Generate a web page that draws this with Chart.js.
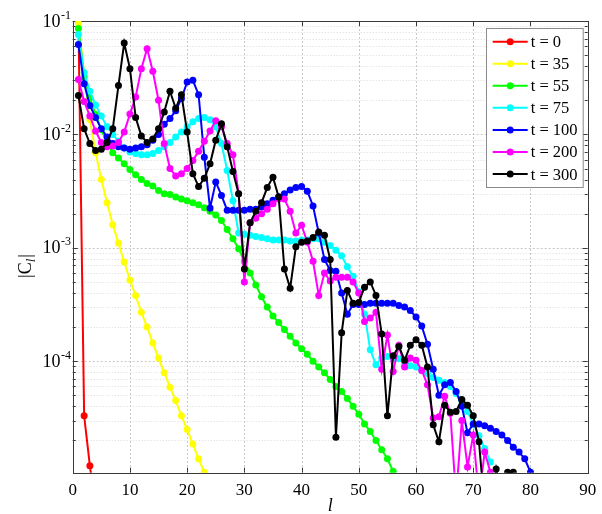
<!DOCTYPE html>
<html>
<head>
<meta charset="utf-8">
<style>
    html, body { margin: 0; padding: 0; background: #fff; }
    canvas { display: block; }
</style>
</head>
<body>
<canvas id="chart" width="602" height="514"></canvas>
<script src="https://cdn.jsdelivr.net/npm/chart.js@4.4.0/dist/chart.umd.min.js"></script>
<script>
// |C_l| for l = 1, 2, 3, ... (one array per time)
const t0 = [0.1, 3.3e-5, 1.2e-5, 5e-6];
const t35 = [9.5e-2, 3.5e-2, 1.35e-2, 6.9e-3, 4.0e-3, 2.5e-3, 1.6e-3, 1.1e-3, 7.5e-4, 5.2e-4,
    3.8e-4, 2.7e-4, 2.0e-4, 1.45e-4, 1.07e-4, 7.9e-5, 5.9e-5, 4.5e-5, 3.3e-5, 2.5e-5,
    1.86e-5, 1.38e-5, 1.05e-5];
const t55 = [8.6e-2, 3.2e-2, 2.1e-2, 1.5e-2, 1.1e-2, 8.5e-3, 6.9e-3, 6.2e-3, 5.5e-3, 4.9e-3,
    4.4e-3, 4.0e-3, 3.7e-3, 3.5e-3, 3.2e-3, 3.0e-3, 2.95e-3, 2.8e-3, 2.7e-3, 2.6e-3,
    2.5e-3, 2.4e-3, 2.26e-3, 2.1e-3, 1.95e-3, 1.74e-3, 1.45e-3, 1.2e-3, 9.8e-4, 7.6e-4,
    6.0e-4, 4.7e-4, 3.7e-4, 3.0e-4, 2.5e-4, 2.2e-4, 1.9e-4, 1.66e-4, 1.45e-4, 1.29e-4,
    1.15e-4, 1.0e-4, 8.9e-5, 7.9e-5, 6.9e-5, 6.0e-5, 5.4e-5, 4.7e-5, 4.0e-5, 3.4e-5,
    2.8e-5, 2.4e-5, 2.0e-5, 1.66e-5, 1.38e-5, 1.07e-5];
const t75 = [7.6e-2, 3.5e-2, 2.4e-2, 1.82e-2, 1.45e-2, 1.17e-2, 1.0e-2, 8.7e-3, 7.6e-3, 7.0e-3,
    6.8e-3, 6.6e-3, 6.6e-3, 6.8e-3, 7.2e-3, 7.8e-3, 8.5e-3, 9.5e-3, 1.05e-2, 1.17e-2,
    1.29e-2, 1.38e-2, 1.41e-2, 1.35e-2, 1.17e-2, 8.3e-3, 4.8e-3, 2.6e-3, 1.35e-3, 1.32e-3,
    1.29e-3, 1.26e-3, 1.23e-3, 1.2e-3, 1.17e-3, 1.17e-3, 1.17e-3, 1.15e-3, 1.15e-3, 1.17e-3,
    1.17e-3, 1.2e-3, 1.2e-3, 1.12e-3, 1.05e-3, 9.5e-4, 8.5e-4, 6.8e-4, 5.6e-4, 4.1e-4,
    2.6e-4, 1.26e-4, 9.3e-5, 1.07e-4, 1.1e-4, 1.07e-4, 1.05e-4, 9.5e-5, 9.1e-5, 8.9e-5,
    8.3e-5, 7.8e-5, 7.2e-5, 6.8e-5, 6.5e-5, 6.0e-5, 5.2e-5, 4.5e-5, 3.6e-5, 2.8e-5,
    2.2e-5, 1.7e-5, 1.29e-5];
const t100 = [6.2e-2, 2.8e-2, 1.8e-2, 1.41e-2, 1.12e-2, 9.5e-3, 8.3e-3, 7.8e-3, 7.6e-3, 7.4e-3,
    7.6e-3, 7.8e-3, 8.1e-3, 8.9e-3, 1.0e-2, 1.23e-2, 1.38e-2, 1.62e-2, 2.07e-2, 2.9e-2,
    3.0e-2, 2.24e-2, 6.3e-3, 2.24e-3, 3.8e-3, 2.9e-3, 2.14e-3, 2.14e-3, 2.14e-3, 2.14e-3,
    2.19e-3, 2.19e-3, 2.29e-3, 2.45e-3, 2.63e-3, 2.82e-3, 3.0e-3, 3.24e-3, 3.4e-3, 3.47e-3,
    3.16e-3, 2.34e-3, 1.35e-3, 7.9e-4, 6.3e-4, 6.2e-4, 4.0e-4, 2.6e-4, 3.16e-4, 3.16e-4,
    3.16e-4, 3.24e-4, 3.24e-4, 3.24e-4, 3.24e-4, 3.24e-4, 3.1e-4, 3.0e-4, 2.8e-4, 2.45e-4,
    2.04e-4, 1.41e-4, 8.5e-5, 5.0e-5, 6.2e-5, 6.5e-5, 5.4e-5, 4.0e-5, 2.34e-5, 2.8e-5,
    2.8e-5, 2.7e-5, 2.57e-5, 2.4e-5, 2.24e-5, 2.0e-5, 1.74e-5, 1.58e-5, 1.38e-5, 1.05e-5];
const t200 = [3.05e-2, 1.95e-2, 1.45e-2, 1.07e-2, 8.5e-3, 7.8e-3, 7.9e-3, 8.5e-3, 1.05e-2, 1.51e-2,
    2.14e-2, 3.8e-2, 5.7e-2, 3.6e-2, 2.0e-2, 8.3e-3, 5.0e-3, 4.3e-3, 4.5e-3, 5.0e-3,
    5.9e-3, 7.1e-3, 8.7e-3, 1.07e-2, 1.32e-2, 1.17e-2, 8.3e-3, 6.6e-3, 3.0e-3, 5.0e-4,
    1.66e-3, 1.82e-3, 2.0e-3, 2.19e-3, 2.45e-3, 2.7e-3, 2.7e-3, 2.1e-3, 1.35e-3, 1.58e-3,
    1.12e-3, 7.6e-4, 3.8e-4, 6.0e-4, 5.1e-4, 5.5e-4, 5.5e-4, 5.5e-4, 5.0e-4, 4.0e-4,
    2.24e-4, 2.4e-4, 2.7e-4, 8.5e-5, 1.7e-4, 8.1e-5, 1.38e-4, 8.9e-5, 1.07e-4, 1.02e-4,
    8.3e-5, 6.2e-5, 3.16e-5, 3.24e-5, 4.9e-5, 3.47e-5, 6.3e-6, 3.0e-5, 1.17e-5, 2.24e-5,
    6.3e-6, 1.58e-5, 1.05e-5];
const t300 = [2.2e-2, 1.12e-2, 8.3e-3, 7.2e-3, 7.4e-3, 8.5e-3, 1.12e-2, 2.7e-2, 6.4e-2, 3.8e-2,
    1.41e-2, 9.7e-3, 8.5e-3, 9.1e-3, 1.12e-2, 1.58e-2, 2.4e-2, 1.7e-2, 2.24e-2, 1.05e-2,
    4.5e-3, 3.47e-3, 4.1e-3, 5.5e-3, 8.9e-3, 1.24e-2, 7.8e-3, 4.7e-3, 3.0e-3, 6.5e-4,
    1.66e-3, 2.1e-3, 2.5e-3, 3.4e-3, 4.2e-3, 2.8e-3, 6.5e-4, 4.4e-4, 1.02e-3, 1.12e-3,
    1.15e-3, 1.23e-3, 1.38e-3, 1.29e-3, 7.9e-4, 2.14e-5, 1.78e-4, 4.2e-4, 3.24e-4, 3.3e-4,
    4.5e-4, 5.0e-4, 3.8e-4, 1.74e-4, 3.3e-5, 1.12e-4, 1.35e-4, 1.02e-4, 1.38e-4, 1.55e-4,
    1.38e-4, 8.9e-5, 2.75e-5, 1.95e-5, 4.1e-5, 3.55e-5, 3.6e-5, 4.6e-5, 4.1e-5, 3.3e-5,
    1.95e-5, 5e-6, 5e-6, 1.12e-5, 6.3e-6, 1.05e-5, 1.05e-5];

const seriesValues = [t0, t35, t55, t75, t100, t200, t300];
const seriesLabels = ['t = 0', 't = 35', 't = 55', 't = 75', 't = 100', 't = 200', 't = 300'];
const seriesColors = ['#ff0000', '#ffff00', '#00ff00', '#00ffff', '#0000ff', '#ff00ff', '#000000'];

// axes
const xTicks = [0, 10, 20, 30, 40, 50, 60, 70, 80, 90];
const yDecades = [1e-4, 1e-3, 1e-2, 1e-1];
const yExponents = ['-4', '-3', '-2', '-1'];
const yMinorSteps = [2, 3, 4, 5, 6, 7, 8, 9];

const SERIF = "'Liberation Serif', 'Times New Roman', serif";

const datasets = seriesValues.map((values, i) => ({
    label: seriesLabels[i],
    data: values.map((v, k) => ({ x: k + 1, y: v })),
    borderColor: seriesColors[i],
    backgroundColor: seriesColors[i],
    pointBackgroundColor: seriesColors[i],
    pointBorderColor: seriesColors[i],
    pointRadius: 3.5,
    pointBorderWidth: 0,
    borderWidth: 2,
    tension: 0,
    order: seriesValues.length - i // later series on top
}));

// grid, box, ticks (under the data)
const axesPlugin = {
    id: 'axesBox',
    beforeDatasetsDraw(chart) {
        const { ctx, chartArea: a, scales: { x, y } } = chart;
        ctx.save();
        ctx.lineWidth = 1;

        // minor horizontal grid
        ctx.strokeStyle = '#dadada';
        ctx.setLineDash([1, 2]);
        [1e-5].concat(yDecades.slice(0, 3)).forEach(d => {
            yMinorSteps.forEach(m => {
                const py = y.getPixelForValue(d * m);
                if (py < a.top || py > a.bottom) return;
                ctx.beginPath();
                ctx.moveTo(a.left, Math.round(py) + 0.5);
                ctx.lineTo(a.right, Math.round(py) + 0.5);
                ctx.stroke();
            });
        });

        // major grid
        ctx.strokeStyle = '#c8c8c8';
        ctx.setLineDash([2, 2]);
        yDecades.forEach(d => {
            const py = Math.round(y.getPixelForValue(d)) + 0.5;
            ctx.beginPath();
            ctx.moveTo(a.left, py);
            ctx.lineTo(a.right, py);
            ctx.stroke();
        });
        xTicks.forEach(v => {
            const px = Math.round(x.getPixelForValue(v)) + 0.5;
            ctx.beginPath();
            ctx.moveTo(px, a.top);
            ctx.lineTo(px, a.bottom);
            ctx.stroke();
        });

        // box
        ctx.setLineDash([]);
        ctx.strokeStyle = '#3a3a3a';
        ctx.strokeRect(Math.round(a.left) + 0.5, Math.round(a.top) + 0.5,
            Math.round(a.right) - Math.round(a.left), Math.round(a.bottom) - Math.round(a.top));

        // tick marks pointing inwards
        ctx.beginPath();
        xTicks.forEach(v => {
            const px = Math.round(x.getPixelForValue(v)) + 0.5;
            ctx.moveTo(px, a.bottom); ctx.lineTo(px, a.bottom - 5);
            ctx.moveTo(px, a.top); ctx.lineTo(px, a.top + 5);
        });
        yDecades.forEach(d => {
            const py = Math.round(y.getPixelForValue(d)) + 0.5;
            ctx.moveTo(a.left, py); ctx.lineTo(a.left + 5, py);
            ctx.moveTo(a.right, py); ctx.lineTo(a.right - 5, py);
        });
        [1e-5].concat(yDecades.slice(0, 3)).forEach(d => {
            yMinorSteps.forEach(m => {
                const py = y.getPixelForValue(d * m);
                if (py < a.top || py > a.bottom) return;
                const ry = Math.round(py) + 0.5;
                ctx.moveTo(a.left, ry); ctx.lineTo(a.left + 3, ry);
                ctx.moveTo(a.right, ry); ctx.lineTo(a.right - 3, ry);
            });
        });
        ctx.stroke();
        ctx.restore();
    },

    // tick labels, axis labels, legend
    afterDraw(chart) {
        const { ctx, chartArea: a, scales: { x, y } } = chart;
        ctx.save();
        ctx.fillStyle = '#000';

        // x tick labels
        ctx.font = '17px ' + SERIF;
        ctx.textAlign = 'center';
        ctx.textBaseline = 'alphabetic';
        xTicks.forEach(v => ctx.fillText(String(v), x.getPixelForValue(v), 495));

        // y tick labels 10^k
        yDecades.forEach((d, i) => {
            const py = y.getPixelForValue(d);
            ctx.font = '18px ' + SERIF;
            ctx.textAlign = 'right';
            ctx.fillText('10', 60.5, py + 5.5);
            ctx.font = '12px ' + SERIF;
            ctx.textAlign = 'left';
            ctx.fillText(yExponents[i], 61, py - 2.5);
        });

        // x label
        ctx.font = 'italic 18px ' + SERIF;
        ctx.textAlign = 'center';
        ctx.fillText('l', (a.left + a.right) / 2, 511);

        // y label |C_l| rotated
        ctx.save();
        ctx.translate(31, 266);
        ctx.rotate(-Math.PI / 2);
        ctx.textAlign = 'left';
        const big = '18px ' + SERIF;
        const sub = 'italic 13px ' + SERIF;
        ctx.font = big;
        const w1 = ctx.measureText('|C').width;
        const w3 = ctx.measureText('|').width;
        ctx.font = sub;
        const w2 = ctx.measureText('l').width + 1;
        let cx = -(w1 + w2 + w3) / 2;
        ctx.font = big;
        ctx.fillText('|C', cx, 0);
        cx += w1;
        ctx.font = sub;
        ctx.fillText('l', cx, 4);
        cx += w2;
        ctx.font = big;
        ctx.fillText('|', cx, 0);
        ctx.restore();

        // legend box
        const lx = 486, ly = 28, lw = 96.7, lh = 159;
        ctx.fillStyle = '#fff';
        ctx.fillRect(lx, ly, lw, lh);
        ctx.strokeStyle = '#8a8a8a';
        ctx.lineWidth = 1;
        ctx.strokeRect(lx + 0.5, ly + 0.5, lw, lh);
        ctx.font = '16.5px ' + SERIF;
        ctx.textAlign = 'left';
        chart.data.datasets.forEach((ds, i) => {
            const cy = 41.7 + i * 22.05;
            ctx.strokeStyle = ds.borderColor;
            ctx.lineWidth = 2;
            ctx.beginPath();
            ctx.moveTo(492.7, cy);
            ctx.lineTo(527.7, cy);
            ctx.stroke();
            ctx.fillStyle = ds.borderColor;
            ctx.beginPath();
            ctx.arc(510.2, cy, 3.5, 0, Math.PI * 2);
            ctx.fill();
            ctx.fillStyle = '#000';
            ctx.fillText(ds.label, 530.7, cy + 5.5);
        });
        ctx.restore();
    }
};

new Chart(document.getElementById('chart').getContext('2d'), {
    type: 'line',
    data: { datasets },
    options: {
        responsive: false,
        animation: false,
        devicePixelRatio: 1,
        layout: { padding: { left: 72.7, right: 14.3, top: 21, bottom: 41.3 } },
        scales: {
            x: { type: 'linear', min: 0, max: 90, display: false },
            y: { type: 'logarithmic', min: 1.04e-5, max: 0.1, display: false }
        },
        plugins: { legend: { display: false }, tooltip: { enabled: false } }
    },
    plugins: [axesPlugin]
});
</script>
</body>
</html>
